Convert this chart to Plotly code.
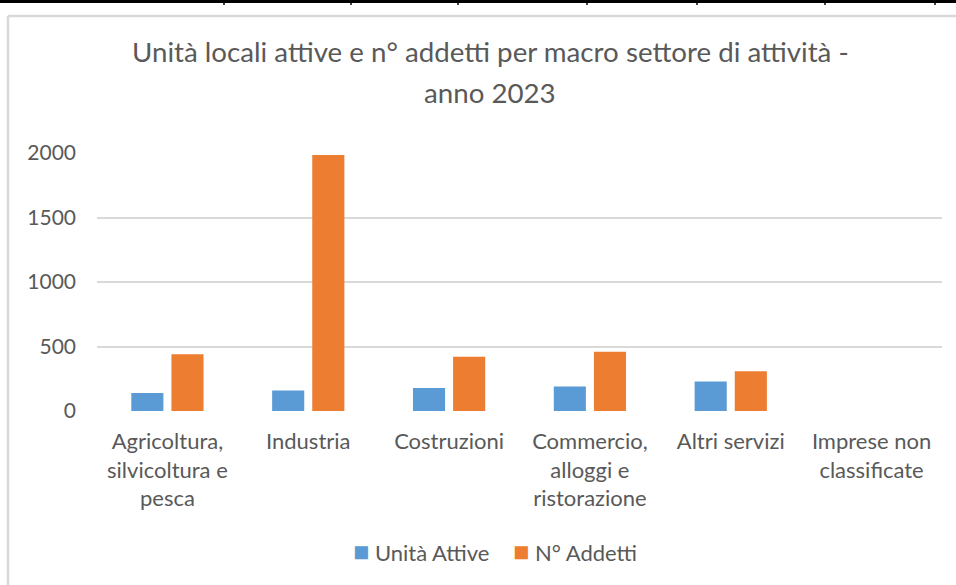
"""
Unità locali attive e n° addetti per macro settore di attività - anno 2023
"""

import plotly.graph_objects as go

# Data
categories = [
    "Agricoltura,<br>silvicoltura e<br>pesca",
    "Industria",
    "Costruzioni",
    "Commercio,<br>alloggi e<br>ristorazione",
    "Altri servizi",
    "Imprese non<br>classificate",
]
series_names = ["Unità Attive", "N° Addetti"]
unita_attive = [140, 159, 179, 190, 229, 0]
n_addetti = [439, 1985, 420, 459, 309, 0]
y_ticks = [0, 500, 1000, 1500, 2000]

FONT = "Lato"
TEXT_GREY = "#595959"
GRID_GREY = "#d9d9d9"
BLUE = "#5B9BD5"
ORANGE = "#ED7D31"

W, H = 956, 585
M_L, M_R, M_T, M_B = 97, 14, 153, 174
PLOT_W = W - M_L - M_R
PLOT_H = H - M_T - M_B


def px_x(px):
    """pixel x -> paper x"""
    return (px - M_L) / PLOT_W


def px_y(py):
    """pixel y (from top) -> paper y"""
    return (H - M_B - py) / PLOT_H


fig = go.Figure()

fig.add_trace(go.Bar(
    x=categories,
    y=unita_attive,
    name=series_names[0],
    marker=dict(color=BLUE, line=dict(width=0)),
))
fig.add_trace(go.Bar(
    x=categories,
    y=n_addetti,
    name=series_names[1],
    marker=dict(color=ORANGE, line=dict(width=0)),
))

# chart frame (top/left edges visible) and table border remnant above it
shapes = [
    dict(type="line", xref="paper", yref="paper",
         x0=px_x(8), x1=px_x(W + 5), y0=px_y(16), y1=px_y(16),
         line=dict(color=GRID_GREY, width=2.5)),
    dict(type="line", xref="paper", yref="paper",
         x0=px_x(8), x1=px_x(8), y0=px_y(16), y1=px_y(H + 5),
         line=dict(color=GRID_GREY, width=2.5)),
    dict(type="line", xref="paper", yref="paper",
         x0=px_x(-5), x1=px_x(W + 5), y0=px_y(1.5), y1=px_y(1.5),
         line=dict(color="black", width=3)),
]
for tx in [224, 351, 458, 587, 697, 825, 935]:
    shapes.append(dict(type="line", xref="paper", yref="paper",
                       x0=px_x(tx), x1=px_x(tx), y0=px_y(1), y1=px_y(5),
                       line=dict(color="black", width=1.5)))

# title (two lines, Excel-like spacing) + legend drawn as text
annotations = [
    dict(text="Unità locali attive e n° addetti per macro settore di attività -",
         x=px_x(490), y=px_y(52)),
    dict(text="anno 2023", x=px_x(490), y=px_y(92)),
]
for a in annotations:
    a.update(xref="paper", yref="paper", xanchor="center", yanchor="middle",
             showarrow=False, font=dict(family=FONT, size=27.7, color=TEXT_GREY))

legend_items = [
    (series_names[0], BLUE, 353),
    (series_names[1], ORANGE, 513),
]
for name, color, x_left in legend_items:
    annotations.append(dict(
        text=f"<span style='color:{color};font-size:27px'>■</span> {name}",
        xref="paper", yref="paper",
        x=px_x(x_left - 2), y=px_y(550),
        xanchor="left", yanchor="middle",
        showarrow=False,
        font=dict(family=FONT, size=22, color=TEXT_GREY),
    ))

fig.update_layout(
    width=W,
    height=H,
    margin=dict(l=M_L, r=M_R, t=M_T, b=M_B),
    plot_bgcolor="white",
    paper_bgcolor="white",
    font=dict(family=FONT, color=TEXT_GREY, size=22),
    barmode="group",
    bargap=0.43,
    bargroupgap=0.2,
    annotations=annotations,
    xaxis=dict(
        showgrid=False,
        showline=False,
        zeroline=False,
        ticks="",
        ticklabelstandoff=15,
        tickfont=dict(size=22, color=TEXT_GREY),
    ),
    yaxis=dict(
        range=[0, 2000],
        tickvals=y_ticks,
        showgrid=True,
        gridcolor=GRID_GREY,
        gridwidth=1.5,
        zeroline=False,
        showline=False,
        ticks="",
        ticklabelstandoff=20,
        tickfont=dict(size=21, color=TEXT_GREY),
    ),
    showlegend=False,
    shapes=shapes,
)

# drop the browser's default 8px body margin so the figure sits at (0, 0)
fig.write_html(
    "out.html",
    config={"displayModeBar": False},
    post_script="document.body.style.margin='0';",
)
